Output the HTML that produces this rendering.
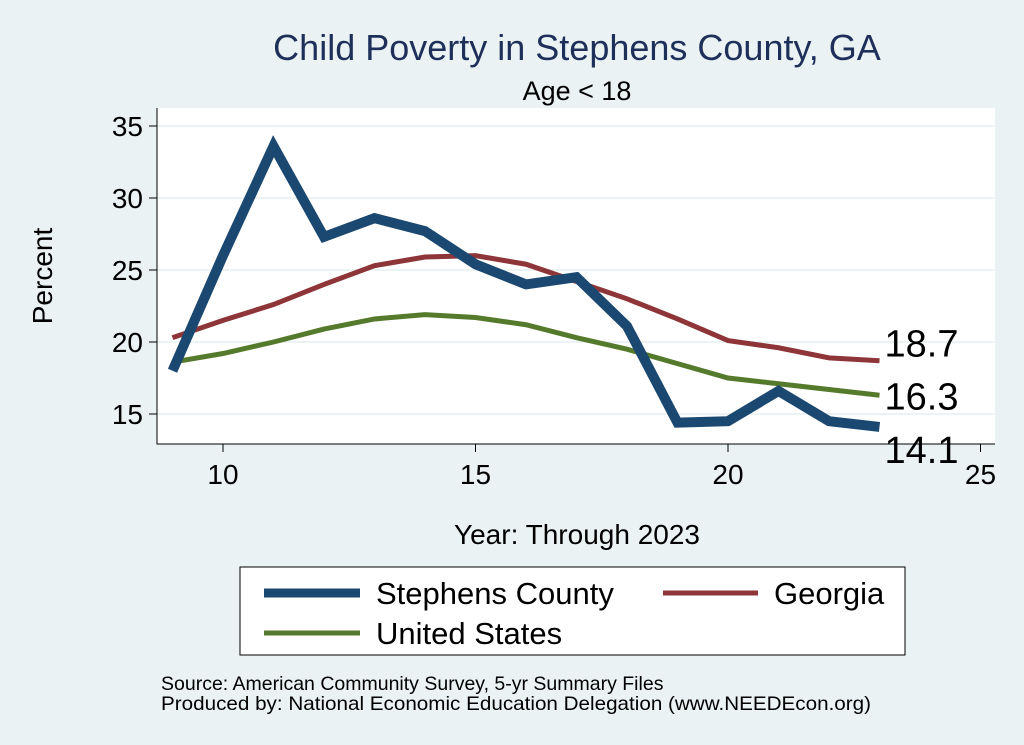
<!DOCTYPE html>
<html><head><meta charset="utf-8"><style>
body{margin:0;background:#eaf2f3;}
svg{display:block;font-family:"Liberation Sans",sans-serif;}
</style></head><body>
<svg width="1024" height="745">
<rect width="1024" height="745" fill="#eaf2f3"/>
<rect x="157" y="108" width="838" height="336" fill="#fff"/>
<g id="grid"></g>
<g id="axes"></g>
<g id="series"></g>
<text x="577" y="60" font-size="36" fill="#1e2f5a" text-anchor="middle">Child Poverty in Stephens County, GA</text>
<text x="577" y="100" font-size="27" fill="#000" text-anchor="middle">Age &lt; 18</text>
<text x="52" y="276" font-size="28" text-anchor="middle" transform="rotate(-90 52 276)">Percent</text>
<text x="577" y="544" font-size="28" text-anchor="middle">Year: Through 2023</text>
<g>
<rect x="240" y="567" width="665" height="88" fill="#fff" stroke="#000" stroke-width="1"/>
<line x1="264" y1="593" x2="360" y2="593" stroke="#1a4870" stroke-width="9"/>
<text x="376" y="604" font-size="31">Stephens County</text>
<line x1="663" y1="593" x2="758" y2="593" stroke="#8e3539" stroke-width="5"/>
<text x="774" y="604" font-size="31">Georgia</text>
<line x1="264" y1="633" x2="360" y2="633" stroke="#557a2c" stroke-width="5"/>
<text x="376" y="644" font-size="31">United States</text>
</g>
<text x="161" y="690" font-size="19.5">Source: American Community Survey, 5-yr Summary Files</text>
<text x="161" y="710" font-size="19.5" textLength="710" lengthAdjust="spacingAndGlyphs">Produced by: National Economic Education Delegation (www.NEEDEcon.org)</text>
</svg>
<script>
const years=[9,10,11,12,13,14,15,16,17,18,19,20,21,22,23];
const stephens=[18.0,26.0,33.6,27.3,28.6,27.7,25.4,24.0,24.5,21.1,14.4,14.5,16.6,14.5,14.1];
const georgia=[20.3,21.5,22.6,24.0,25.3,25.9,26.0,25.4,24.2,23.0,21.6,20.1,19.6,18.9,18.7];
const usa=[18.6,19.2,20.0,20.9,21.6,21.9,21.7,21.2,20.3,19.5,18.5,17.5,17.1,16.7,16.3];
const yTicks=[15,20,25,30,35];
const xTicks=[10,15,20,25];
const NS='http://www.w3.org/2000/svg';
const X=v=>223+(v-10)*50.5;
const Y=v=>414-(v-15)*14.4;
function mk(t,a,p){const e=document.createElementNS(NS,t);for(const k in a)e.setAttribute(k,a[k]);p.appendChild(e);return e;}
const grid=document.getElementById('grid'),axes=document.getElementById('axes'),ser=document.getElementById('series');
yTicks.forEach(t=>{
 const g=mk('line',{x1:157,x2:995,y1:Y(t),y2:Y(t),stroke:'#e6eff2','stroke-width':1.5},grid);
 
 
 mk('line',{x1:149,x2:157,y1:Y(t),y2:Y(t),stroke:'#000'},axes);
 const l=mk('text',{x:143,y:Y(t)+10,'font-size':28,'text-anchor':'end'},axes);l.textContent=t;
 
 
});
xTicks.forEach(t=>{
 mk('line',{x1:X(t),x2:X(t),y1:444,y2:452,stroke:'#000'},axes);
 const l=mk('text',{x:X(t),y:484,'font-size':28,'text-anchor':'middle'},axes);l.textContent=t;
 
 
});
mk('line',{x1:157,x2:157,y1:108,y2:444.5,stroke:'#000'},axes);
mk('line',{x1:157,x2:995,y1:444,y2:444,stroke:'#000'},axes);
function line(d,c,w,name,dy){
 const p=mk('polyline',{points:d.map((v,i)=>X(years[i])+','+Y(v)).join(' '),fill:'none',stroke:c,'stroke-width':w,'stroke-linejoin':'miter'},ser);
 
 
 const last=d[d.length-1];
 const lb=mk('text',{x:X(years[years.length-1])+5,y:Y(last)+dy,'font-size':38},ser);
 lb.textContent=last.toFixed(1);
 
 
}
line(georgia,'#8e3539',5,'line-georgia',-4);
line(usa,'#557a2c',5,'line-us',14);
line(stephens,'#1a4870',10,'line-stephens',36);
</script>
</body></html>
